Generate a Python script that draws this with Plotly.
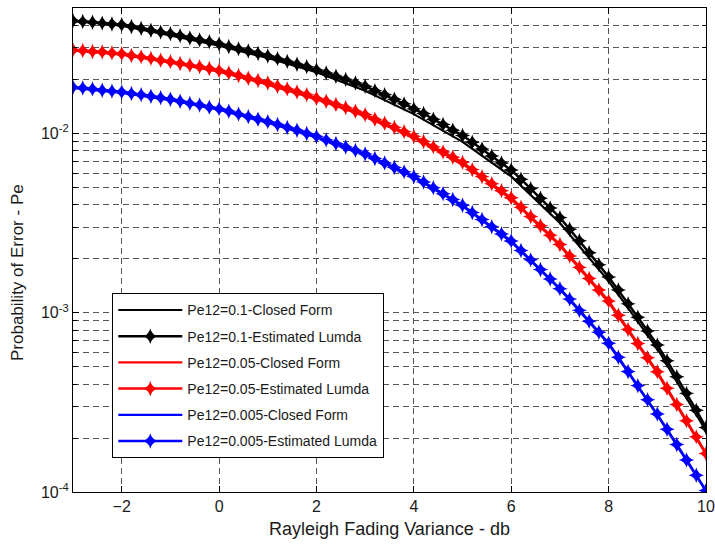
import plotly.graph_objects as go

# ---------------- data ----------------
x_est = [round(-3 + 0.2 * i, 1) for i in range(66)]
x_cf = [-3, -2, -1, 0, 1, 2, 3, 4, 5, 6, 7, 8, 9, 10]

pe01_est = [4.25e-2, 4.21e-2, 4.16e-2, 4.12e-2, 4.07e-2, 4.03e-2, 3.94e-2, 3.85e-2, 3.76e-2, 3.67e-2,
            3.59e-2, 3.50e-2, 3.40e-2, 3.32e-2, 3.24e-2, 3.15e-2, 3.05e-2, 2.96e-2, 2.88e-2, 2.79e-2,
            2.70e-2, 2.61e-2, 2.52e-2, 2.43e-2, 2.35e-2, 2.26e-2, 2.17e-2, 2.08e-2, 2.00e-2, 1.91e-2,
            1.83e-2, 1.73e-2, 1.64e-2, 1.55e-2, 1.46e-2, 1.37e-2, 1.29e-2, 1.20e-2, 1.12e-2, 1.04e-2,
            9.73e-3, 8.93e-3, 8.18e-3, 7.48e-3, 6.84e-3, 6.24e-3, 5.55e-3, 4.92e-3, 4.35e-3, 3.84e-3,
            3.39e-3, 2.92e-3, 2.52e-3, 2.16e-3, 1.85e-3, 1.58e-3, 1.34e-3, 1.12e-3, 9.44e-4, 7.91e-4,
            6.61e-4, 5.40e-4, 4.39e-4, 3.55e-4, 2.86e-4, 2.29e-4]
pe005_est = [2.92e-2, 2.90e-2, 2.86e-2, 2.84e-2, 2.81e-2, 2.78e-2, 2.72e-2, 2.67e-2, 2.62e-2, 2.56e-2,
             2.51e-2, 2.45e-2, 2.40e-2, 2.35e-2, 2.30e-2, 2.24e-2, 2.17e-2, 2.10e-2, 2.03e-2, 1.97e-2,
             1.91e-2, 1.83e-2, 1.77e-2, 1.70e-2, 1.64e-2, 1.57e-2, 1.51e-2, 1.45e-2, 1.39e-2, 1.33e-2,
             1.27e-2, 1.20e-2, 1.14e-2, 1.08e-2, 1.02e-2, 9.62e-3, 9.00e-3, 8.41e-3, 7.87e-3, 7.36e-3,
             6.89e-3, 6.28e-3, 5.74e-3, 5.24e-3, 4.79e-3, 4.37e-3, 3.87e-3, 3.44e-3, 3.05e-3, 2.70e-3,
             2.40e-3, 2.07e-3, 1.79e-3, 1.55e-3, 1.34e-3, 1.16e-3, 9.68e-4, 8.07e-4, 6.73e-4, 5.61e-4,
             4.68e-4, 3.79e-4, 3.08e-4, 2.50e-4, 2.03e-4, 1.64e-4]
pe0005_est = [1.81e-2, 1.79e-2, 1.77e-2, 1.74e-2, 1.72e-2, 1.70e-2, 1.67e-2, 1.64e-2, 1.61e-2, 1.58e-2,
              1.55e-2, 1.51e-2, 1.47e-2, 1.44e-2, 1.40e-2, 1.37e-2, 1.33e-2, 1.28e-2, 1.24e-2, 1.20e-2,
              1.16e-2, 1.12e-2, 1.08e-2, 1.04e-2, 9.98e-3, 9.62e-3, 9.18e-3, 8.79e-3, 8.39e-3, 8.04e-3,
              7.67e-3, 7.24e-3, 6.84e-3, 6.46e-3, 6.10e-3, 5.75e-3, 5.35e-3, 4.97e-3, 4.60e-3, 4.28e-3,
              3.97e-3, 3.62e-3, 3.31e-3, 3.02e-3, 2.75e-3, 2.51e-3, 2.22e-3, 1.97e-3, 1.74e-3, 1.54e-3,
              1.36e-3, 1.19e-3, 1.03e-3, 8.95e-4, 7.78e-4, 6.76e-4, 5.64e-4, 4.70e-4, 3.92e-4, 3.27e-4,
              2.72e-4, 2.24e-4, 1.84e-4, 1.51e-4, 1.24e-4, 1.02e-4]

pe01_cf = [4.25e-2, 3.98e-2, 3.52e-2, 3.08e-2, 2.63e-2, 2.19e-2, 1.73e-2, 1.28e-2, 8.97e-3, 5.75e-3,
           3.16e-3, 1.50e-3, 6.31e-4, 2.19e-4]
pe005_cf = [2.89e-2, 2.75e-2, 2.48e-2, 2.21e-2, 1.87e-2, 1.55e-2, 1.25e-2, 9.44e-3, 6.76e-3, 4.29e-3,
            2.36e-3, 1.14e-3, 4.60e-4, 1.62e-4]
pe0005_cf = [1.79e-2, 1.68e-2, 1.53e-2, 1.36e-2, 1.15e-2, 9.51e-3, 7.59e-3, 5.69e-3, 3.93e-3, 2.48e-3,
             1.35e-3, 6.68e-4, 2.69e-4, 1.01e-4]

x_ticks = [-2, 0, 2, 4, 6, 8, 10]
y_ticks = [1e-4, 1e-3, 1e-2]
y_ticktext = ["10<sup>-4</sup>", "10<sup>-3</sup>", "10<sup>-2</sup>"]

series = [
    ("Pe12=0.1-Closed Form", x_cf, pe01_cf, "black", False),
    ("Pe12=0.1-Estimated Lumda", x_est, pe01_est, "black", True),
    ("Pe12=0.05-Closed Form", x_cf, pe005_cf, "#ff0000", False),
    ("Pe12=0.05-Estimated Lumda", x_est, pe005_est, "#ff0000", True),
    ("Pe12=0.005-Closed Form", x_cf, pe0005_cf, "#0000ff", False),
    ("Pe12=0.005-Estimated Lumda", x_est, pe0005_est, "#0000ff", True),
]

fig = go.Figure()
for i, (name, xs, ys, col, est) in enumerate(series):
    if est:
        fig.add_trace(go.Scatter(
            x=xs, y=ys, name=name, mode="lines+markers",
            line=dict(color=col, width=2.5),
            marker=dict(symbol="star-diamond", size=11, color=col, line=dict(width=0)),
            legendgroup=f"g{i}"))
    else:
        fig.add_trace(go.Scatter(
            x=xs, y=ys, name=name, mode="lines",
            line=dict(color=col, width=2.2),
            legendgroup=f"g{i}"))

font_family = "Liberation Sans, Arial, sans-serif"
grid_col = "#555555"
txt_col = "#1a1a1a"

fig.update_layout(
    width=715, height=545,
    margin=dict(l=73, r=9, t=8, b=53, autoexpand=False),
    paper_bgcolor="white", plot_bgcolor="white",
    font=dict(family=font_family, size=15, color=txt_col),
    showlegend=True,
    legend=dict(
        x=0.0616, y=0.411, xanchor="left", yanchor="top",
        bgcolor="white", bordercolor="black", borderwidth=1.3,
        font=dict(family=font_family, size=14, color=txt_col),
        traceorder="grouped", tracegroupgap=5,
        itemwidth=64,
    ),
    xaxis=dict(
        range=[-3, 10], tickvals=x_ticks, ticks="inside", ticklen=6, tickwidth=1,
        tickcolor="black", automargin=False, ticklabeloverflow="allow",
        showline=True, linecolor="black", linewidth=1.3, mirror="ticks",
        showgrid=True, gridcolor=grid_col, griddash="6px,4px", gridwidth=1,
        zeroline=False,
        title=dict(text="Rayleigh Fading Variance - db", font=dict(size=18, color=txt_col), standoff=8),
        tickfont=dict(size=16, color=txt_col),
    ),
    yaxis=dict(
        type="log", range=[-4, -1.30103], automargin=False, ticklabeloverflow="allow",
        tickvals=y_ticks, ticktext=y_ticktext,
        ticks="inside", ticklen=6, tickwidth=1, tickcolor="black",
        showline=True, linecolor="black", linewidth=1.3, mirror="ticks",
        showgrid=True, gridcolor=grid_col, griddash="6px,4px", gridwidth=1,
        minor=dict(dtick="D1", ticks="inside", ticklen=4, tickcolor="black",
                   showgrid=True, gridcolor=grid_col, griddash="6px,4px", gridwidth=1),
        zeroline=False,
        tickfont=dict(size=16, color=txt_col),
    ),
    annotations=[dict(
        text="Probability of Error - Pe", textangle=-90,
        xref="paper", yref="paper", x=-0.0885, y=0.4545,
        xanchor="center", yanchor="middle", showarrow=False,
        font=dict(family=font_family, size=17, color=txt_col),
    )],
)

# remove the default page margin / scrollbars so the 715x545 figure fills the window
fig.write_html(
    "out.html",
    config={"displayModeBar": False},
    post_script="document.body.style.margin='0';document.body.style.overflow='hidden';",
)
